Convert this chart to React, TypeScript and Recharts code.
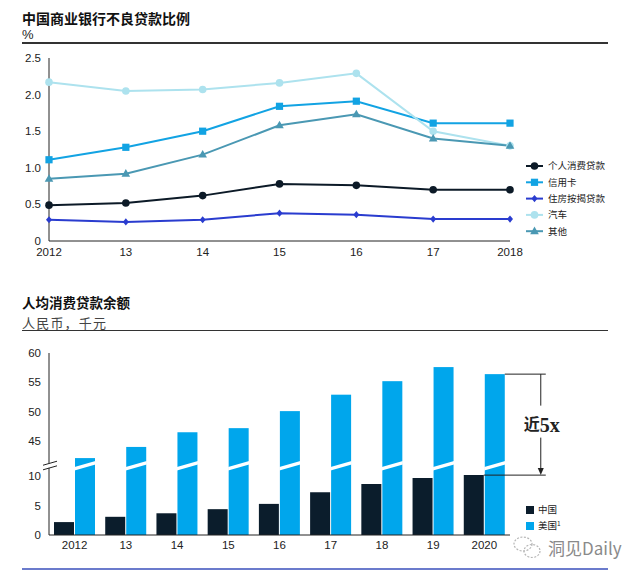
import React from 'react'
import { Bar, BarChart, Line, LineChart, XAxis, YAxis } from 'recharts'

// Top chart: NPL ratio of Chinese commercial banks, %
const YEARS = ['2012', '13', '14', '15', '16', '17', '2018']
const CONSUMER = [0.49, 0.52, 0.62, 0.78, 0.76, 0.7, 0.7]
const CREDIT_CARD = [1.11, 1.28, 1.5, 1.84, 1.91, 1.61, 1.61]
const MORTGAGE = [0.29, 0.26, 0.29, 0.38, 0.36, 0.3, 0.3]
const AUTO = [2.17, 2.05, 2.07, 2.16, 2.29, 1.5, 1.3]
const OTHER = [0.85, 0.92, 1.18, 1.58, 1.73, 1.4, 1.3]
const NPL_TICKS = [0, 0.5, 1, 1.5, 2, 2.5]

// Bottom chart: consumer loan balance per capita, RMB thousand
const BAR_YEARS = ['2012', '13', '14', '15', '16', '17', '18', '19', '2020']
const CHINA = [2.2, 3.1, 3.7, 4.4, 5.3, 7.3, 8.7, 9.7, 10.2]
const US = [42.1, 44.0, 46.5, 47.2, 50.1, 52.9, 55.2, 57.6, 56.4]
const BALANCE_TICKS = [0, 5, 10, 45, 50, 55, 60]

// Broken axis: everything above the break is shifted down by CUT.
const CUT = 29
const BREAK_T = 11.8
const toAxis = (v: number) => (v > 30 ? v - CUT : v)
const fromAxis = (t: number) => (t > BREAK_T ? t + CUT : t)

const INK = '#222'
const NAVY = '#0b1d2c'
const SKY = '#00a6ec'
const TICK = { fill: INK, fontSize: 11.5, fontFamily: 'Liberation Sans, Arial, sans-serif' }
const CJK = '"Noto Sans CJK SC", sans-serif'

type Kind = 'circle' | 'square' | 'diamond' | 'triangle'

const SERIES: { key: string; name: string; values: number[]; color: string; kind: Kind }[] = [
  { key: 'consumer', name: '个人消费贷款', values: CONSUMER, color: '#0c1a27', kind: 'circle' },
  { key: 'card', name: '信用卡', values: CREDIT_CARD, color: '#12a3e3', kind: 'square' },
  { key: 'mortgage', name: '住房按揭贷款', values: MORTGAGE, color: '#2a3ccf', kind: 'diamond' },
  { key: 'auto', name: '汽车', values: AUTO, color: '#ade2ee', kind: 'circle' },
  { key: 'other', name: '其他', values: OTHER, color: '#4a98b3', kind: 'triangle' },
]

const nplRows = YEARS.map((year, i) => {
  const row: Record<string, number | string> = { i, year }
  SERIES.forEach((s) => (row[s.key] = s.values[i]))
  return row
})

const balanceRows = BAR_YEARS.map((year, i) => ({
  year,
  china: toAxis(CHINA[i]),
  us: toAxis(US[i]),
}))

function Marker({ kind, cx, cy, color }: { kind: Kind; cx: number; cy: number; color: string }) {
  if (kind === 'square') return <rect x={cx - 3.6} y={cy - 3.6} width={7.2} height={7.2} fill={color} />
  if (kind === 'diamond')
    return <polygon points={`${cx},${cy - 3.6} ${cx + 3},${cy} ${cx},${cy + 3.6} ${cx - 3},${cy}`} fill={color} />
  if (kind === 'triangle')
    return <polygon points={`${cx},${cy - 4.6} ${cx + 4.3},${cy + 3} ${cx - 4.3},${cy + 3}`} fill={color} />
  return <circle cx={cx} cy={cy} r={3.8} fill={color} />
}

function Label({ top, left, size, children, style }: any) {
  return (
    <div
      style={{
        position: 'absolute',
        top: top - size / 2,
        left,
        fontSize: size,
        lineHeight: `${size}px`,
        whiteSpace: 'nowrap',
        ...style,
      }}
    >
      {children}
    </div>
  )
}

function Rule({ top, color = '#333', height = 1.5 }: { top: number; color?: string; height?: number }) {
  return <div style={{ position: 'absolute', top, left: 22, width: 586, height, background: color }} />
}

// Y tick of the bar chart; the tick at the break draws the "//" mark instead of a label.
function BalanceTick(props: any) {
  const { x, y, payload } = props
  if (payload.value === BREAK_T) {
    const ax = x + 8
    const slash = (yo: number) => (
      <line x1={ax - 6} y1={yo + 1.8} x2={ax + 8} y2={yo - 2.2} stroke={INK} strokeWidth={1} />
    )
    return (
      <g>
        <rect x={ax - 2} y={y - 2.3} width={4} height={4.4} fill="#fff" />
        {slash(y - 2.3)}
        {slash(y + 2.3)}
      </g>
    )
  }
  return (
    <text x={x} y={y} dy="0.36em" textAnchor="end" {...TICK}>
      {fromAxis(payload.value)}
    </text>
  )
}

// US bar with the white break slash; the last bar also carries the "近5x" bracket.
function UsBar(props: any) {
  const { x, y, width, height, payload, index } = props
  const bottom = y + height
  const perUnit = height / payload.us
  const yc = bottom - BREAK_T * perUnit
  const t = 1.8
  const last = index === BAR_YEARS.length - 1
  const chinaY = bottom - payload.china * perUnit
  const right = x + width
  const vx = right + 36
  const mid = (y + chinaY) / 2
  return (
    <g>
      <rect x={x} y={y} width={width} height={height} fill={SKY} />
      <polygon
        points={`${x - 0.5},${yc + 3 + t} ${right + 0.5},${yc - 3 + t} ${right + 0.5},${yc - 3 - t} ${x - 0.5},${yc + 3 - t}`}
        fill="#fff"
      />
      {last && (
        <g stroke={INK} strokeWidth={1}>
          <line x1={right} y1={y} x2={right + 41} y2={y} />
          <line x1={x - 1} y1={chinaY} x2={right + 41} y2={chinaY} />
          <line x1={vx} y1={y} x2={vx} y2={mid - 19} />
          <line x1={vx} y1={mid + 13} x2={vx} y2={chinaY - 6} />
          <polygon points={`${vx - 3},${chinaY - 7} ${vx + 3},${chinaY - 7} ${vx},${chinaY}`} fill={INK} stroke="none" />
          <text x={vx + 1} y={mid} dy="0.36em" textAnchor="middle" stroke="none" fill={INK}>
            <tspan fontFamily={CJK} fontWeight={700} fontSize={16}>
              近
            </tspan>
            <tspan fontFamily='"Liberation Serif", serif' fontWeight={700} fontSize={20} dy={2}>
              5x
            </tspan>
          </text>
        </g>
      )}
    </g>
  )
}

export default function App() {
  return (
    <div
      style={{
        position: 'absolute',
        left: 0,
        top: 0,
        width: 632,
        height: 576,
        background: '#fff',
        color: INK,
        fontFamily: 'Liberation Sans, Arial, sans-serif',
        overflow: 'hidden',
      }}
    >
      <Label top={18} left={22} size={14} style={{ fontFamily: CJK, fontWeight: 700, color: '#111' }}>
        中国商业银行不良贷款比例
      </Label>
      <Label top={34} left={22} size={13}>
        %
      </Label>
      <Rule top={42} />

      <div style={{ position: 'absolute', top: 0, left: 0 }}>
        <LineChart width={632} height={280} data={nplRows} margin={{ top: 58, right: 122, bottom: 9, left: 9 }}>
          <XAxis
            type="number"
            dataKey="i"
            domain={[0, 6]}
            ticks={[0, 1, 2, 3, 4, 5, 6]}
            tickFormatter={(v) => YEARS[v]}
            tick={TICK}
            tickLine={false}
            tickSize={0}
            tickMargin={7}
            height={30}
            axisLine={{ stroke: INK }}
          />
          <YAxis
            domain={[0, 2.5]}
            ticks={NPL_TICKS}
            interval={0}
            tickFormatter={(v) => (v === 0 ? '0' : v.toFixed(1))}
            tick={TICK}
            tickLine={false}
            tickSize={0}
            tickMargin={8}
            width={40}
            axisLine={{ stroke: INK }}
          />
          {SERIES.map((s) => (
            <Line
              key={s.key}
              dataKey={s.key}
              type="linear"
              stroke={s.color}
              strokeWidth={2}
              activeDot={false}
              isAnimationActive={false}
              dot={(p: any) => <Marker key={`${s.key}-${p.index}`} kind={s.kind} cx={p.cx} cy={p.cy} color={s.color} />}
            />
          ))}
        </LineChart>
      </div>

      <svg style={{ position: 'absolute', left: 524, top: 156 }} width={100} height={84}>
        {SERIES.map((s, i) => {
          const cy = 10 + i * 16.3
          return (
            <g key={s.key}>
              <line x1={2} y1={cy} x2={19} y2={cy} stroke={s.color} strokeWidth={2} />
              <Marker kind={s.kind} cx={10.5} cy={cy} color={s.color} />
              <text x={24} y={cy} dy="0.36em" fontSize={9.5} fontFamily={CJK} fill={INK}>
                {s.name}
              </text>
            </g>
          )
        })}
      </svg>

      <Label top={303} left={22} size={13.5} style={{ fontFamily: CJK, fontWeight: 700, color: '#111' }}>
        人均消费贷款余额
      </Label>
      <Label top={322.5} left={22} size={13} style={{ fontFamily: CJK, color: '#444', letterSpacing: 1.2 }}>
        人民币，千元
      </Label>
      <Rule top={329.5} />

      <div style={{ position: 'absolute', top: 280, left: 0 }}>
        <BarChart
          width={632}
          height={296}
          data={balanceRows}
          margin={{ top: 73, right: 122, bottom: 11, left: 9 }}
          barSize={20}
          barGap={1}
        >
          <XAxis
            dataKey="year"
            interval={0}
            tick={TICK}
            tickLine={false}
            tickSize={0}
            tickMargin={6}
            height={30}
            axisLine={{ stroke: INK }}
          />
          <YAxis
            domain={[0, 31]}
            ticks={[...BALANCE_TICKS.map(toAxis), BREAK_T]}
            interval={0}
            tick={<BalanceTick />}
            tickLine={false}
            tickSize={0}
            tickMargin={8}
            width={40}
            axisLine={{ stroke: INK }}
          />
          <Bar dataKey="china" fill={NAVY} isAnimationActive={false} />
          <Bar dataKey="us" fill={SKY} shape={<UsBar />} isAnimationActive={false} />
        </BarChart>
      </div>

      <svg style={{ position: 'absolute', left: 520, top: 500 }} width={100} height={34}>
        <rect x={6} y={6} width={8} height={8} fill={NAVY} />
        <text x={18} y={10} dy="0.36em" fontSize={9.5} fontFamily={CJK} fill={INK}>
          中国
        </text>
        <rect x={6} y={22} width={8} height={8} fill={SKY} />
        <text x={18} y={26} dy="0.36em" fontSize={9.5} fontFamily={CJK} fill={INK}>
          美国<tspan fontSize={6.5} dy={-3}>1</tspan>
        </text>
      </svg>

      <svg style={{ position: 'absolute', left: 512, top: 535 }} width={32} height={26}>
        <g fill="none" stroke="#b5b5b5" strokeWidth={1.2} strokeDasharray="2 1.5">
          <ellipse cx={11} cy={9} rx={9} ry={7} />
          <ellipse cx={20} cy={16} rx={8} ry={6.5} />
        </g>
      </svg>
      <Label top={547} left={548} size={17} style={{ fontFamily: CJK, color: '#8a8a8a' }}>
        洞见Daily
      </Label>

      <Rule top={568} color="#6b7bcc" height={2} />
    </div>
  )
}
